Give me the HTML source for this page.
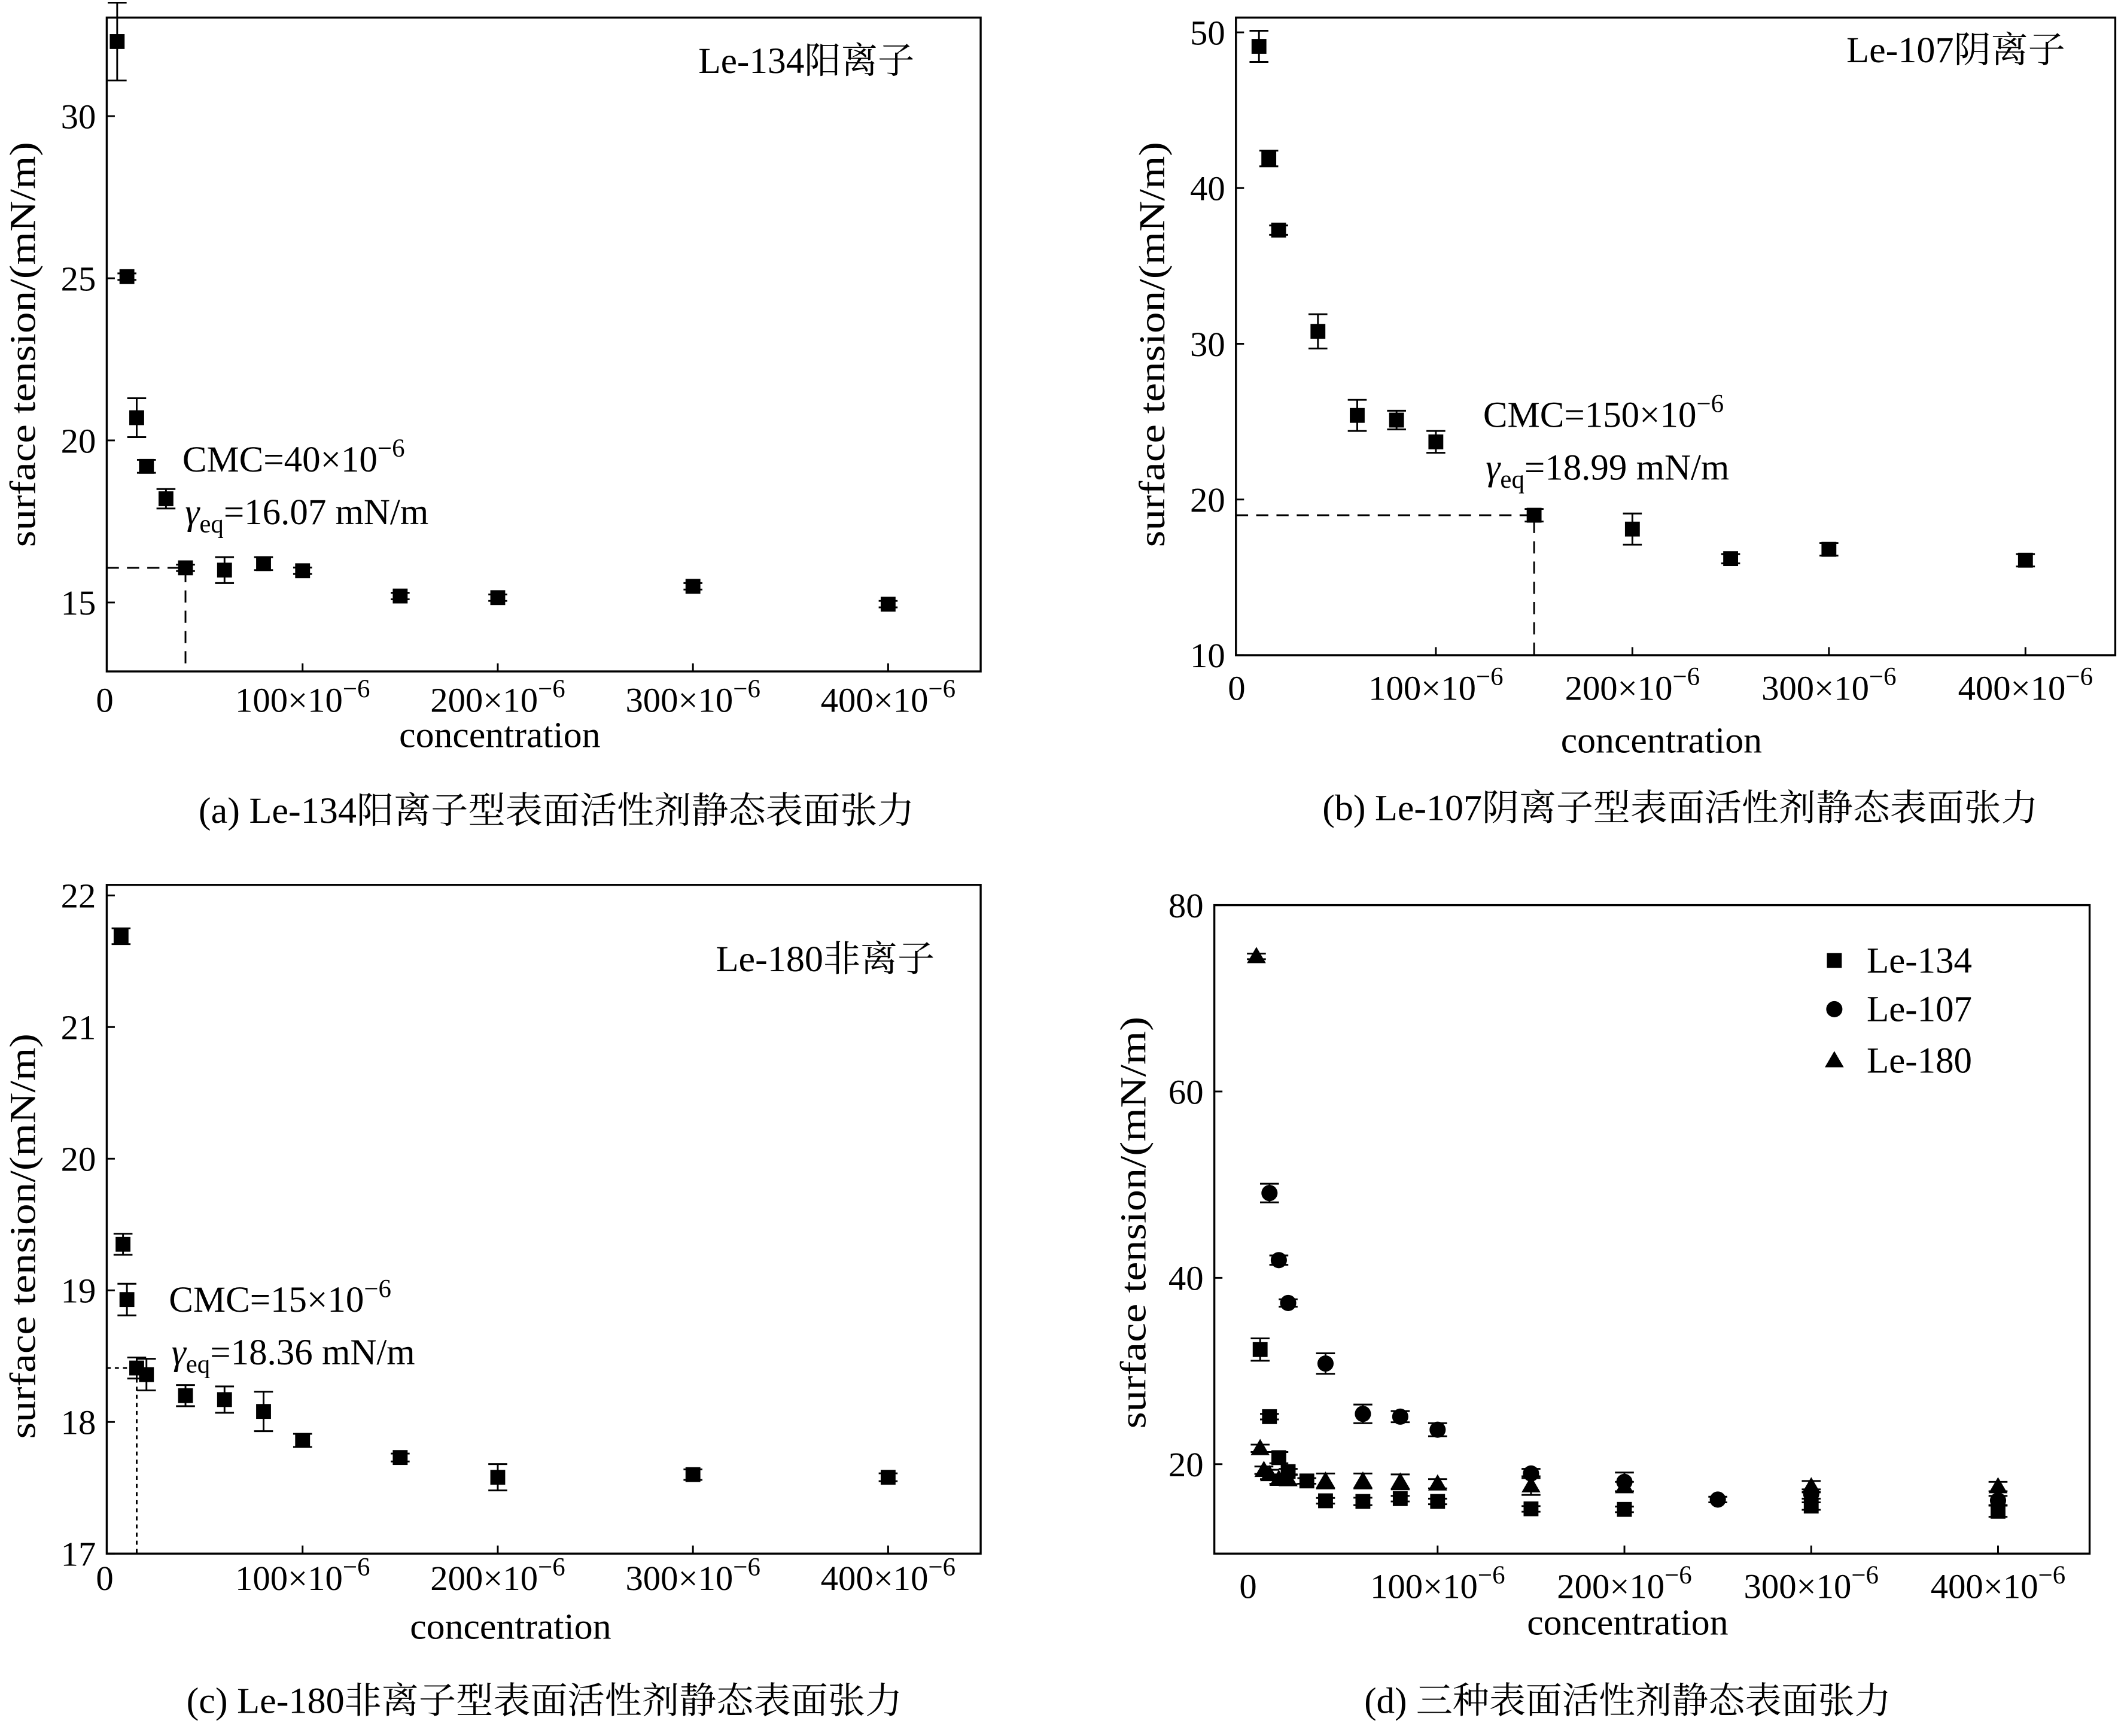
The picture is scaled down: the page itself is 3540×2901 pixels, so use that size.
<!DOCTYPE html>
<html><head><meta charset="utf-8">
<style>
html,body{margin:0;padding:0;background:#fff;}
svg{display:block;}
text{font-family:"Liberation Serif","Noto Serif CJK SC","Noto Sans CJK SC",serif;fill:#000;}
</style></head>
<body>
<svg id="fig" width="3540" height="2901" viewBox="0 0 1568 1285" xmlns="http://www.w3.org/2000/svg"></svg>
<script>
// ---- data ----
const xTickValues = [100, 200, 300, 400];
const xTickLabel = "×10";
// panel a: Le-134
const aX = [5, 10, 15, 20, 30, 40, 60, 80, 100, 150, 200, 300, 400];
const aY = [32.3, 25.05, 20.7, 19.2, 18.2, 16.07, 16.0, 16.2, 15.98, 15.2, 15.15, 15.5, 14.95];
const aErr = [1.2, 0.1, 0.6, 0.2, 0.3, 0.1, 0.4, 0.2, 0.1, 0.1, 0.1, 0.1, 0.1];
const aYTicks = [15, 20, 25, 30];
// panel b: Le-107
const bX = [10, 15, 20, 40, 60, 80, 100, 150, 200, 250, 300, 400];
const bY = [49.1, 41.9, 37.3, 30.8, 25.4, 25.1, 23.7, 18.99, 18.1, 16.2, 16.8, 16.1];
const bErr = [1.0, 0.5, 0.3, 1.1, 1.0, 0.6, 0.7, 0.4, 1.0, 0.3, 0.4, 0.4];
const bYTicks = [10, 20, 30, 40, 50];
// panel c: Le-180
const cX = [7, 8, 10, 15, 20, 40, 60, 80, 100, 150, 200, 300, 400];
const cY = [21.69, 19.35, 18.93, 18.41, 18.36, 18.2, 18.17, 18.08, 17.86, 17.73, 17.58, 17.6, 17.58];
const cErr = [0.06, 0.08, 0.12, 0.08, 0.12, 0.08, 0.1, 0.15, 0.05, 0.03, 0.1, 0.04, 0.03];
const cYTicks = [17, 18, 19, 20, 21, 22];
// panel d: all three
const d134X = [5, 10, 15, 20, 30, 40, 60, 80, 100, 150, 200, 300, 400];
const d134Y = [32.3, 25.1, 20.7, 19.2, 18.2, 16.07, 16.0, 16.3, 16.0, 15.2, 15.15, 15.5, 14.95];
const d134Err = [1.2, 0.3, 0.6, 0.3, 0.3, 0.3, 0.4, 0.3, 0.3, 0.3, 0.3, 0.4, 0.6];
const d107X = [10, 15, 20, 40, 60, 80, 100, 150, 200, 250, 300, 400];
const d107Y = [49.1, 41.9, 37.3, 30.8, 25.4, 25.1, 23.7, 19.0, 18.1, 16.2, 16.8, 16.1];
const d107Err = [1.0, 0.5, 0.4, 1.1, 1.0, 0.6, 0.7, 0.5, 1.0, 0.3, 0.5, 0.5];
const d180X = [3, 5, 7, 10, 15, 20, 40, 60, 80, 100, 150, 200, 300, 400];
const d180Y = [74.5, 21.7, 19.35, 18.9, 18.4, 18.36, 18.2, 18.2, 18.1, 17.9, 17.7, 17.6, 17.6, 17.6];
const d180Err = [0.3, 0.4, 0.4, 0.5, 0.5, 0.5, 0.8, 0.8, 0.8, 0.5, 1.0, 0.5, 0.6, 0.5];
const dYTicks = [20, 40, 60, 80];

const NS = "http://www.w3.org/2000/svg";
const svg = document.getElementById('fig');
function mk(tag, attrs, parent, txt){
  const e = document.createElementNS(NS, tag);
  for (const k in attrs) e.setAttribute(k, attrs[k]);
  if (txt !== undefined) e.textContent = txt;
  (parent || svg).appendChild(e);
  return e;
}

function panel(cfg){
  const g = mk('g', {});
  
  
  const sx = v => cfg.x0 + v * cfg.pxPerX;
  const sy = v => cfg.yBot - (v - cfg.yMin) * (cfg.yBot - cfg.yTop) / (cfg.yMax - cfg.yMin);
  const frame = mk('rect', {x: cfg.L, y: cfg.yTop, width: cfg.R - cfg.L, height: cfg.yBot - cfg.yTop, fill: 'none', stroke: '#000', 'stroke-width': 1.5}, g);
  
  
  cfg.yTicks.forEach(t => {
    const y = sy(t);
    const tk = mk('line', {x1: cfg.L, x2: cfg.L + 6, y1: y, y2: y, stroke: '#000', 'stroke-width': 1.3}, g);
    
    
    const tl = mk('text', {x: cfg.L - 8, y: y + 9, 'text-anchor': 'end', 'font-size': 26}, g, String(t));
    
    
  });
  const zl = mk('text', {x: sx(0) - 2, y: cfg.xLabY, 'text-anchor': 'middle', 'font-size': 26}, g, '0');
  
  
  xTickValues.forEach(t => {
    const x = sx(t);
    const tk = mk('line', {x1: x, x2: x, y1: cfg.yBot, y2: cfg.yBot - 6, stroke: '#000', 'stroke-width': 1.3}, g);
    
    
    const tl = mk('text', {x: x, y: cfg.xLabY, 'text-anchor': 'middle', 'font-size': 26}, g);
    
    
    mk('tspan', {}, tl, t + xTickLabel);
    mk('tspan', {dy: -11, 'font-size': 19}, tl, '−6');
  });
  const xt = mk('text', {x: cfg.xTitle[0], y: cfg.xTitle[1], 'text-anchor': 'middle', 'font-size': 27, textLength: 149, lengthAdjust: 'spacingAndGlyphs'}, g, 'concentration');
  
  
  const yt = mk('text', {x: 0, y: 0, 'text-anchor': 'middle', 'font-size': 27, textLength: cfg.yTitleLen || 300, lengthAdjust: 'spacingAndGlyphs', transform: `translate(${cfg.yTitle[0]},${cfg.yTitle[1]}) rotate(-90)`}, g, 'surface tension/(mN/m)');
  
  
  const cap = mk('text', {x: cfg.cap[0], y: cfg.cap[1], 'text-anchor': 'middle', 'font-size': 27, textLength: cfg.capLen, lengthAdjust: 'spacingAndGlyphs'}, g, cfg.caption);
  
  
  return {g, sx, sy};
}

function errBar(g, x, y1, y2){
  const e = mk('path', {d: `M${x},${y1}V${y2}M${x-7},${y1}H${x+7}M${x-7},${y2}H${x+7}`, stroke: '#000', 'stroke-width': 1.3, fill: 'none'}, g);
  
  
}
function marker(g, shape, x, y, name){
  let m;
  if (shape === 'sq') m = mk('rect', {x: x - 5.5, y: y - 5.5, width: 11, height: 11, fill: '#000'}, g);
  else if (shape === 'ci') m = mk('circle', {cx: x, cy: y, r: 6, fill: '#000'}, g);
  else m = mk('polygon', {points: `${x},${y-7} ${x-7},${y+5} ${x+7},${y+5}`, fill: '#000'}, g);
  
  
}
function series(p, xs, ys, errs, shape, name){
  xs.forEach((v, i) => {
    const x = p.sx(v), y = p.sy(ys[i]);
    if (errs) errBar(p.g, x, p.sy(ys[i] + errs[i]), p.sy(ys[i] - errs[i]));
    marker(p.g, shape, x, y, name);
  });
}
function dashes(p, cx, cy, cfg, dash){
  const x = p.sx(cx), y = p.sy(cy);
  const d = mk('path', {d: `M${cfg.L},${y}H${x}V${cfg.yBot}`, stroke: '#000', 'stroke-width': 1.3, fill: 'none', 'stroke-dasharray': dash}, p.g);
  
  
}
function note(g, x, y, txt, name, size, len){
  const a = {x, y, 'font-size': size || 27};
  if (len) { a.textLength = len; a.lengthAdjust = 'spacingAndGlyphs'; }
  const t = mk('text', a, g, txt);
  
  
  return t;
}
function cmcNote(g, x, y, cmc, gam){
  const t = mk('text', {x, y, 'font-size': 27}, g);
  
  
  mk('tspan', {}, t, 'CMC=' + cmc + '×10');
  mk('tspan', {dy: -11, 'font-size': 19}, t, '−6');
  const t2 = mk('text', {x: x + 2, y: y + 39, 'font-size': 27}, g);
  
  
  mk('tspan', {'font-style': 'italic'}, t2, 'γ');
  mk('tspan', {dy: 6, 'font-size': 19}, t2, 'eq');
  mk('tspan', {dy: -6}, t2, '=' + gam + ' mN/m');
}

// Panel a
const cfgA = {name: 'panel-a-le134', L: 79, R: 726, yTop: 13, yBot: 497, x0: 79.5, pxPerX: 1.445, yMin: 12.875, yMax: 33.04,
  yTicks: aYTicks, xLabY: 527, xTitle: [370, 553], yTitle: [26, 255], cap: [412, 609], capLen: 530, caption: '(a) Le-134阳离子型表面活性剂静态表面张力'};
const pA = panel(cfgA);
dashes(pA, 40, 16.07, cfgA, '9,6');
series(pA, aX, aY, aErr, 'sq', 'le134-point');
note(pA.g, 517, 54, 'Le-134阳离子', 'series-label', 27, 160);
cmcNote(pA.g, 135, 349, '40', '16.07');

// Panel b
const cfgB = {name: 'panel-b-le107', L: 915, R: 1566, yTop: 13, yBot: 485, x0: 917.5, pxPerX: 1.455, yMin: 10, yMax: 50.95,
  yTicks: bYTicks, xLabY: 518, xTitle: [1230, 557], yTitle: [862, 255], cap: [1244, 607], capLen: 530, caption: '(b) Le-107阴离子型表面活性剂静态表面张力'};
const pB = panel(cfgB);
dashes(pB, 150, 18.99, cfgB, '9,6');
series(pB, bX, bY, bErr, 'sq', 'le107-point');
note(pB.g, 1367, 46, 'Le-107阴离子', 'series-label', 27, 162);
cmcNote(pB.g, 1098, 316, '150', '18.99');

// Panel c
const cfgC = {name: 'panel-c-le180', L: 79, R: 726, yTop: 655, yBot: 1150, x0: 79.5, pxPerX: 1.445, yMin: 17, yMax: 22.08,
  yTicks: cYTicks, xLabY: 1177, xTitle: [378, 1213], yTitle: [26, 915], cap: [403, 1268], capLen: 530, caption: '(c) Le-180非离子型表面活性剂静态表面张力'};
const pC = panel(cfgC);
dashes(pC, 15, 18.41, cfgC, '3,3');
series(pC, cX, cY, cErr, 'sq', 'le180-point');
note(pC.g, 530, 719, 'Le-180非离子', 'series-label', 27, 162);
cmcNote(pC.g, 125, 971, '15', '18.36 ');

// Panel d
const cfgD = {name: 'panel-d-comparison', L: 899, R: 1547, yTop: 670, yBot: 1150, x0: 926, pxPerX: 1.383, yMin: 10.4, yMax: 80,
  yTicks: dYTicks, xLabY: 1183, xTitle: [1205, 1210], yTitle: [848, 905], yTitleLen: 305, cap: [1205, 1268], capLen: 390, caption: '(d) 三种表面活性剂静态表面张力'};
const pD = panel(cfgD);
series(pD, d134X, d134Y, d134Err, 'sq', 'le134-point');
series(pD, d107X, d107Y, d107Err, 'ci', 'le107-point');
series(pD, d180X, d180Y, d180Err, 'tr', 'le180-point');
const legend = mk('g', {}, pD.g);


[['sq', 'Le-134', 711], ['ci', 'Le-107', 747], ['tr', 'Le-180', 785]].forEach(r => {
  marker(legend, r[0], 1358, r[2], 'legend-marker');
  note(legend, 1382, r[2] + 9, r[1], 'legend-entry', 27);
});
</script>
</body></html>
